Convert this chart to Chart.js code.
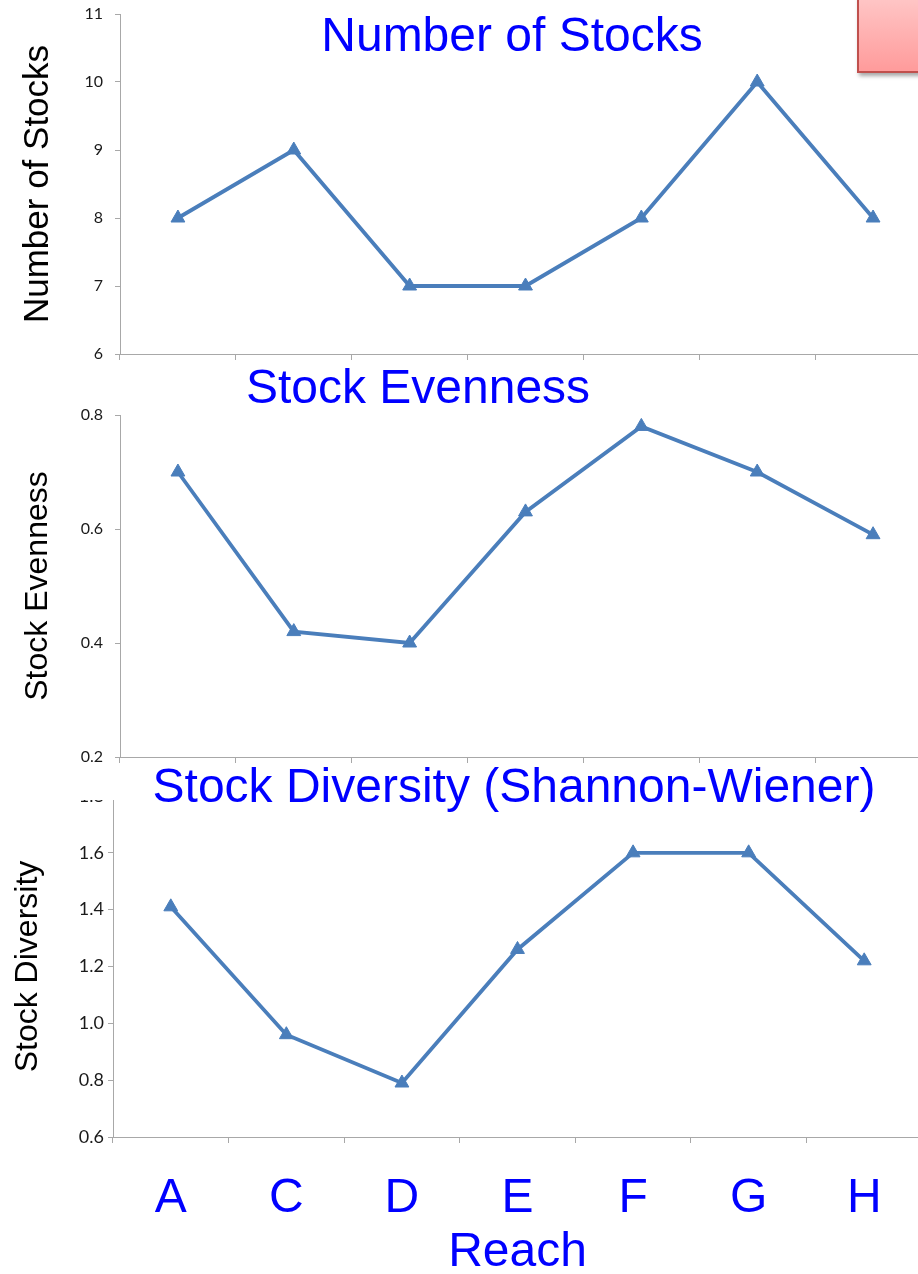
<!DOCTYPE html>
<html>
<head>
<meta charset="utf-8">
<title>Stocks by Reach</title>
<script src="https://cdn.jsdelivr.net/npm/chart.js@4.4.1/dist/chart.umd.min.js"></script>
<style>
  html, body { margin: 0; padding: 0; width: 918px; height: 1274px; overflow: hidden; background: #fff; }
  canvas.cv { position: absolute; left: 0; z-index: 1; }
  .ttl { position: absolute; transform: translateX(-50%); white-space: nowrap;
         font-family: "Liberation Sans", Arial, sans-serif; font-size: 48px; line-height: 48px;
         color: #0000ff; z-index: 3; }
  #mask { position: absolute; left: 60px; top: 765px; width: 858px; height: 35px; background: #fff; z-index: 2; }
  #note { position: absolute; left: 857px; top: -4px; width: 90px; height: 77px; box-sizing: border-box;
          border: 2px solid #c0504d; background: linear-gradient(#ffc6c6, #ff9b9b);
          box-shadow: 2px 3px 4px rgba(0,0,0,0.35); z-index: 3; }
</style>
</head>
<body>
<canvas id="countChart" class="cv" width="940" height="370" style="top:0px;width:940px;height:370px;"></canvas>
<canvas id="evenChart" class="cv" width="940" height="378" style="top:395px;width:940px;height:378px;"></canvas>
<canvas id="divChart" class="cv" width="931" height="501" style="top:776px;width:931px;height:501px;"></canvas>

<div class="ttl" style="left:512px;top:11px;">Number of Stocks</div>
<div class="ttl" style="left:418px;top:363px;">Stock Evenness</div>
<div id="mask"></div>
<div class="ttl" style="left:514px;top:762px;">Stock Diversity (Shannon-Wiener)</div>
<div id="note"></div>

<script>
// Reaches along the bottom axis
const reaches = ['A', 'C', 'D', 'E', 'F', 'G', 'H'];

// Series values, one per reach
const stockCount     = [8, 9, 7, 7, 8, 10, 8];
const stockEvenness  = [0.70, 0.42, 0.40, 0.63, 0.78, 0.70, 0.59];
const stockDiversity = [1.41, 0.96, 0.79, 1.26, 1.60, 1.60, 1.22];

// Value-axis tick labels
const countTicks     = [6, 7, 8, 9, 10, 11];
const evennessTicks  = [0.2, 0.4, 0.6, 0.8];
const diversityTicks = [0.6, 0.8, 1.0, 1.2, 1.4, 1.6, 1.8];

const LINE_BLUE = '#4a7ebb';
const AXIS_GREY = '#a8a8a8';
const ARIAL = '"Liberation Sans", Arial, sans-serif';

Chart.defaults.font.family = 'Lato, "Open Sans", sans-serif';
Chart.defaults.color = '#222';

function lineChart(id, values, tickValues, decimals, cfg) {
  const xScale = {
    type: 'category',
    offset: true,
    border: { display: true, color: AXIS_GREY, width: 1 },
    grid: { display: true, drawOnChartArea: false, drawTicks: true, tickLength: 6, offset: true, color: AXIS_GREY },
    ticks: cfg.xTicks || { display: false },
    title: cfg.xTitle || { display: false },
    afterFit: s => { s.height = cfg.xHeight; }
  };
  const yScale = {
    type: 'linear',
    min: tickValues[0],
    max: tickValues[tickValues.length - 1],
    border: { display: true, color: AXIS_GREY, width: 1 },
    grid: { display: true, drawOnChartArea: false, drawTicks: true, tickLength: 5, color: AXIS_GREY },
    ticks: {
      padding: cfg.yTickPad,
      font: { size: cfg.yTickSize },
      color: '#1a1a1a',
      callback: v => Number(v).toFixed(decimals)
    },
    afterBuildTicks: s => { s.ticks = tickValues.map(v => ({ value: v })); },
    title: {
      display: true,
      text: cfg.yTitle,
      color: '#000',
      font: { family: ARIAL, size: cfg.yTitleSize, lineHeight: 1.2 },
      padding: { top: cfg.yTitlePad, bottom: 0 }
    },
    afterFit: s => {
      s.width = cfg.yWidth;
      // keep the end labels from pushing the plot area inward
      s.paddingTop = 10;
      s.paddingBottom = 10;
    }
  };
  return new Chart(document.getElementById(id), {
    type: 'line',
    data: {
      labels: reaches,
      datasets: [{
        data: values,
        borderColor: LINE_BLUE,
        borderWidth: 3.8,
        tension: 0,
        pointStyle: 'triangle',
        pointRadius: 8,
        pointBackgroundColor: LINE_BLUE,
        pointBorderColor: LINE_BLUE,
        pointBorderWidth: 1,
        clip: false
      }]
    },
    options: {
      responsive: false,
      animation: false,
      layout: { padding: { top: cfg.padTop, left: 0, right: 0, bottom: 0 } },
      plugins: { legend: { display: false }, tooltip: { enabled: false } },
      scales: { x: xScale, y: yScale }
    }
  });
}

lineChart('countChart', stockCount, countTicks, 0, {
  yTitle: 'Number of Stocks', yTitleSize: 35, yWidth: 120, yTitlePad: 17, padTop: 14, xHeight: 16,
  yTickPad: 12, yTickSize: 16
});

lineChart('evenChart', stockEvenness, evennessTicks, 1, {
  yTitle: 'Stock Evenness', yTitleSize: 32, yWidth: 120, yTitlePad: 19, padTop: 20, xHeight: 16,
  yTickPad: 12, yTickSize: 16
});

lineChart('divChart', stockDiversity, diversityTicks, 1, {
  yTitle: 'Stock Diversity', yTitleSize: 32, yWidth: 113, yTitlePad: 9, padTop: 20, xHeight: 140,
  yTickPad: 4, yTickSize: 18,
  xTicks: {
    display: true,
    autoSkip: false,
    maxRotation: 0,
    padding: 32,
    color: '#0000ff',
    font: { family: ARIAL, size: 48, lineHeight: 1 }
  },
  xTitle: {
    display: true,
    text: 'Reach',
    color: '#0000ff',
    font: { family: ARIAL, size: 48, lineHeight: 1 },
    padding: { top: 0, bottom: 0 }
  }
});
</script>
</body>
</html>
